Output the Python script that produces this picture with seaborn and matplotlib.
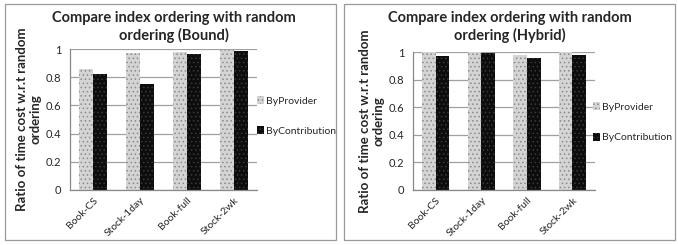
import pandas as pd
import matplotlib
matplotlib.use("Agg")
import matplotlib.pyplot as plt
from matplotlib.patches import Rectangle
import seaborn as sns

# data
categories = ["Book-CS", "Stock-1day", "Book-full", "Stock-2wk"]
series = ["ByProvider", "ByContribution"]
bound_provider = [0.86, 0.97, 0.98, 0.99]
bound_contribution = [0.82, 0.755, 0.965, 0.985]
hybrid_provider = [1.0, 1.0, 0.98, 1.0]
hybrid_contribution = [0.97, 0.99, 0.96, 0.98]
yticks = [0, 0.2, 0.4, 0.6, 0.8, 1]
ytick_labels = ["0", "0.2", "0.4", "0.6", "0.8", "1"]

sns.set_style("white")
plt.rcParams["font.family"] = ["Lato", "DejaVu Sans"]
plt.rcParams["hatch.linewidth"] = 0.6


def make_long(provider, contribution):
    df = pd.DataFrame({"dataset": categories,
                       "ByProvider": provider,
                       "ByContribution": contribution})
    return df.melt(id_vars="dataset", var_name="method", value_name="ratio")


def draw(ax, df, legend_xy):
    sns.barplot(data=df, x="dataset", y="ratio", hue="method",
                hue_order=series, palette=["#d4d4d4", "#0d0d0d"],
                width=0.6, ax=ax, legend=False, saturation=1)
    hatch_cols = ["#8a8a8a", "#3a3a3a"]
    for cont, hc in zip(ax.containers, hatch_cols):
        for bar in cont:
            bar.set_hatch("....")
            bar.set_edgecolor(hc)
            bar.set_linewidth(0)
    ax.set_ylim(0, 1)
    ax.set_xlim(-0.5, 3.5)
    ax.set_yticks(yticks)
    ax.set_yticklabels(ytick_labels, fontsize=8)
    ax.yaxis.grid(True, color="#a0a0a0", linewidth=0.9)
    ax.set_axisbelow(True)
    ax.set_xticks(range(len(categories)))
    ax.set_xticklabels(categories, rotation=45, ha="right",
                       rotation_mode="anchor", fontsize=7.5)
    ax.set_xticks([-0.5, 0.5, 1.5, 2.5, 3.5], minor=True)
    ax.tick_params(axis="x", which="major", length=0, pad=4)
    ax.tick_params(axis="x", which="minor", length=3, color="#888888")
    ax.tick_params(axis="y", length=3, color="#888888", pad=3)
    for s in ["top", "right"]:
        ax.spines[s].set_visible(False)
    for s in ["left", "bottom"]:
        ax.spines[s].set_color("#888888")
        ax.spines[s].set_linewidth(0.9)
    ax.set_xlabel("")
    ax.set_ylabel("Ratio of time cost w.r.t random\nordering",
                  fontsize=9.5, fontweight="bold", labelpad=3)
    handles = [Rectangle((0, 0), 1, 1, facecolor="#d4d4d4", hatch="....",
                         edgecolor="#8a8a8a", linewidth=0),
               Rectangle((0, 0), 1, 1, facecolor="#0d0d0d", hatch="....",
                         edgecolor="#3a3a3a", linewidth=0)]
    ax.legend(handles, series, loc="center left", bbox_to_anchor=legend_xy,
              frameon=False, fontsize=7.5, handlelength=0.7, handleheight=0.8,
              handletextpad=0.2, labelspacing=2.0, borderaxespad=0,
              borderpad=0)


fig = plt.figure(figsize=(6.78, 2.45), dpi=100)

# panel frames
for x0 in [5 / 678, 344 / 678]:
    fig.patches.append(Rectangle((x0, 5 / 245), 331 / 678, 236 / 245,
                                 transform=fig.transFigure, fill=False,
                                 edgecolor="#9a9a9a", linewidth=0.9))

ax1 = fig.add_axes([0.103, 0.2245, 0.276, 0.5755])
draw(ax1, make_long(bound_provider, bound_contribution), (1.0, 0.525))
fig.text(174 / 678, 1 - 27 / 245,
         "Compare index ordering with random\nordering (Bound)",
         ha="center", va="center", fontsize=10.5, fontweight="bold",
         linespacing=1.2)

ax2 = fig.add_axes([0.609, 0.2245, 0.269, 0.563])
draw(ax2, make_long(hybrid_provider, hybrid_contribution), (0.985, 0.49))
fig.text(510 / 678, 1 - 27 / 245,
         "Compare index ordering with random\nordering (Hybrid)",
         ha="center", va="center", fontsize=10.5, fontweight="bold",
         linespacing=1.2)

fig.savefig("out.png", dpi=100)
